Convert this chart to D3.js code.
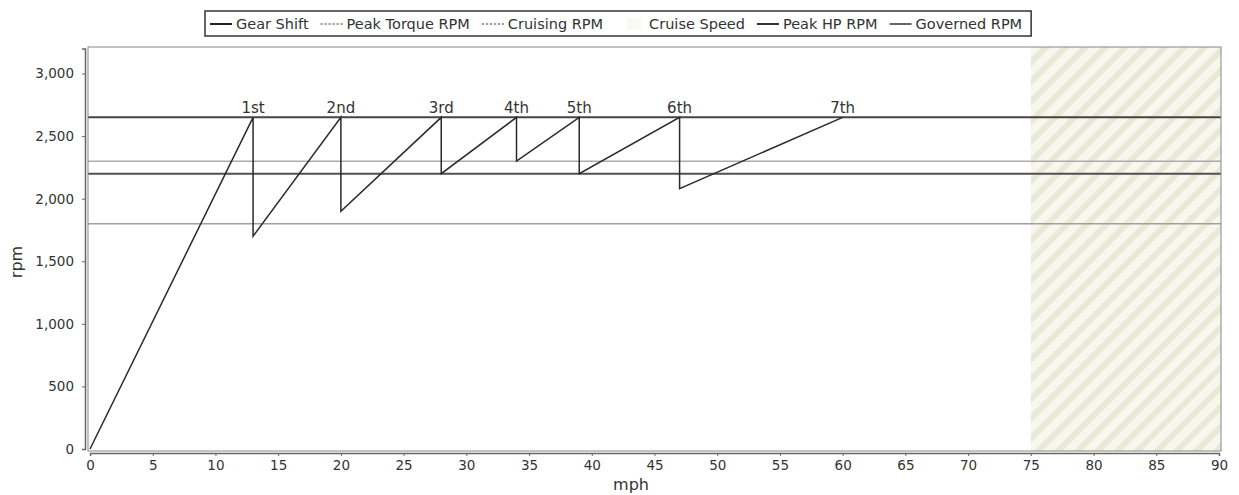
<!DOCTYPE html>
<html>
<head>
<meta charset="utf-8">
<script src="https://cdn.jsdelivr.net/npm/d3@7"></script>
<style>
  body { margin: 0; background: #fff; }
  text { font-family: "DejaVu Sans", sans-serif; fill: #333; }
</style>
</head>
<body>
<svg width="1239" height="495"></svg>
<script>
const gearLabels = ["1st", "2nd", "3rd", "4th", "5th", "6th", "7th"];
const shiftMph = [13, 20, 28, 34, 39, 47, 60];
const shiftRpm = [2650, 2650, 2650, 2650, 2650, 2650, 2650];
const dropRpm = [1700, 1900, 2200, 2300, 2200, 2080];

const refNames = ["Governed RPM", "Cruising RPM", "Peak HP RPM", "Peak Torque RPM"];
const refRpm = [2650, 2300, 2200, 1800];
const refColors = ["#444", "#ababab", "#505050", "#a0a0a0"];
const refWidths = [2, 1.5, 2, 1.5];

const cruiseFrom = 75;
const cruiseTo = 90;

const xTicks = d3.range(0, 91, 5);
const yTicks = [0, 500, 1000, 1500, 2000, 2500, 3000];

const legendItems = [
  { name: "Gear Shift", type: "line", color: "#222", dash: null },
  { name: "Peak Torque RPM", type: "line", color: "#999", dash: "2,2" },
  { name: "Cruising RPM", type: "line", color: "#999", dash: "2,2" },
  { name: "Cruise Speed", type: "hatch", color: "#e6e6d2", dash: null },
  { name: "Peak HP RPM", type: "line", color: "#333", dash: null },
  { name: "Governed RPM", type: "line", color: "#666", dash: null }
];

const svg = d3.select("svg");

const x = d3.scaleLinear().domain([0, 90]).range([90, 1219]);
const y = d3.scaleLinear().domain([0, 3200]).range([449, 48.5]);

const plotLeft = 88, plotRight = 1221, plotTop = 47, plotBottom = 451;

// hatch pattern for the cruise speed band
const defs = svg.append("defs");
const pat = defs.append("pattern")
  .attr("id", "hatch")
  .attr("patternUnits", "userSpaceOnUse")
  .attr("width", 14)
  .attr("height", 14)
  .attr("patternTransform", "rotate(45)");
pat.append("rect").attr("width", 14).attr("height", 14).attr("fill", "#f7f7ee");
pat.append("rect").attr("width", 6).attr("height", 14).attr("fill", "#e9e9d8");

svg.append("rect")
  .attr("x", plotLeft)
  .attr("y", plotTop)
  .attr("width", plotRight - plotLeft)
  .attr("height", plotBottom - plotTop)
  .attr("fill", "#fff");

svg.append("rect")
  .attr("x", x(cruiseFrom))
  .attr("y", plotTop)
  .attr("width", x(cruiseTo) - x(cruiseFrom) + 2)
  .attr("height", plotBottom - plotTop)
  .attr("fill", "url(#hatch)");

// reference rpm lines
svg.selectAll(".ref")
  .data(refRpm)
  .join("line")
  .attr("class", "ref")
  .attr("x1", plotLeft)
  .attr("x2", plotRight)
  .attr("y1", d => y(d))
  .attr("y2", d => y(d))
  .attr("stroke", (d, i) => refColors[i])
  .attr("stroke-width", (d, i) => refWidths[i]);

// gear shift saw-tooth
const pts = [[0, 0]];
shiftMph.forEach((m, i) => {
  pts.push([m, shiftRpm[i]]);
  if (i < dropRpm.length) pts.push([m, dropRpm[i]]);
});

svg.append("path")
  .datum(pts)
  .attr("fill", "none")
  .attr("stroke", "#2a2a2a")
  .attr("stroke-width", 1.5)
  .attr("d", d3.line().x(d => x(d[0])).y(d => y(d[1])));

svg.selectAll(".gear")
  .data(gearLabels)
  .join("text")
  .attr("class", "gear")
  .attr("x", (d, i) => x(shiftMph[i]))
  .attr("y", (d, i) => y(shiftRpm[i]) - 4)
  .attr("text-anchor", "middle")
  .attr("font-size", 15)
  .text(d => d);

// plot outline
svg.append("rect")
  .attr("x", plotLeft)
  .attr("y", plotTop)
  .attr("width", plotRight - plotLeft)
  .attr("height", plotBottom - plotTop)
  .attr("fill", "none")
  .attr("stroke", "#888")
  .attr("stroke-width", 1);

// axes
const xAxis = svg.append("g")
  .attr("transform", `translate(0,${plotBottom + 2})`)
  .call(d3.axisBottom(x).tickValues(xTicks).tickSize(3).tickPadding(4));
const yAxis = svg.append("g")
  .attr("transform", `translate(${plotLeft - 3},0)`)
  .call(d3.axisLeft(y).tickValues(yTicks).tickFormat(d3.format(",")).tickSize(3).tickPadding(8));

[xAxis, yAxis].forEach(g => {
  g.select(".domain").attr("stroke", "#666").attr("stroke-width", 1.5);
  g.selectAll(".tick line").attr("stroke", "#666");
  g.selectAll(".tick text").attr("font-size", 13.5).attr("fill", "#333")
    .attr("font-family", "DejaVu Sans, sans-serif");
});

svg.append("text")
  .attr("x", 631)
  .attr("y", 490)
  .attr("text-anchor", "middle")
  .attr("font-size", 16)
  .text("mph");

svg.append("text")
  .attr("transform", "translate(22,262) rotate(-90)")
  .attr("text-anchor", "middle")
  .attr("font-size", 16)
  .text("rpm");

// legend
const lg = svg.append("g");
const lgBox = lg.append("rect")
  .attr("fill", "#fff")
  .attr("stroke", "#333")
  .attr("stroke-width", 1.5);

let cx = 210;
legendItems.forEach(item => {
  if (item.type === "line") {
    lg.append("line")
      .attr("x1", cx).attr("x2", cx + 22)
      .attr("y1", 24).attr("y2", 24)
      .attr("stroke", item.color)
      .attr("stroke-width", 2)
      .attr("stroke-dasharray", item.dash);
  } else {
    lg.append("rect")
      .attr("x", cx + 4).attr("y", 18)
      .attr("width", 14).attr("height", 12)
      .attr("fill", "#fafaf2");
  }
  const t = lg.append("text")
    .attr("x", cx + 26)
    .attr("y", 29)
    .attr("font-size", 14.5)
    .text(item.name);
  cx += 26 + t.node().getComputedTextLength() + (item.name === "Cruising RPM" ? 20 : 12);
});

lgBox.attr("x", 205).attr("y", 11).attr("width", cx - 205 - 3).attr("height", 25);
</script>
</body>
</html>
